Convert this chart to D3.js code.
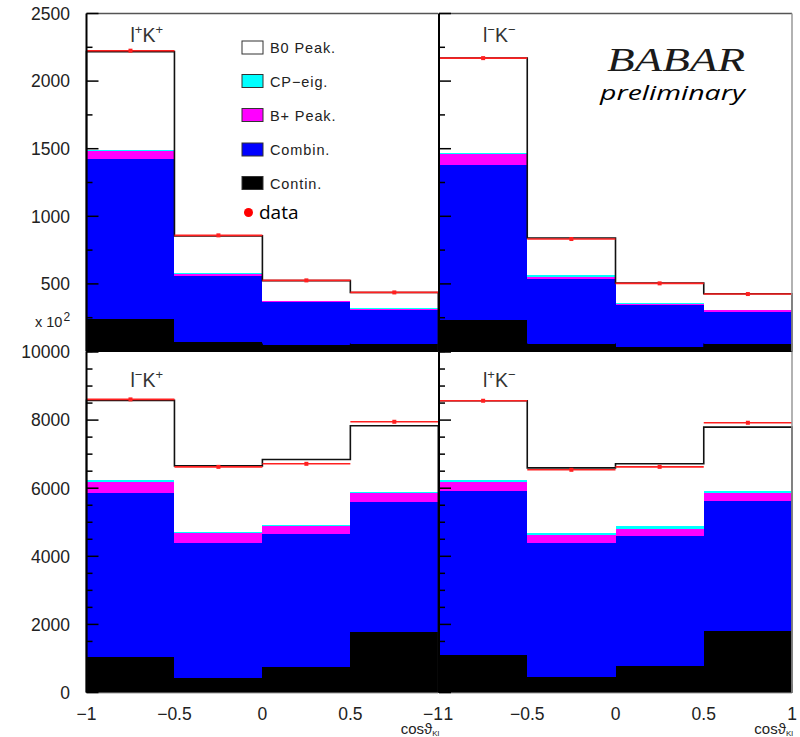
<!DOCTYPE html>
<html><head><meta charset="utf-8">
<script src="https://cdn.jsdelivr.net/npm/d3@7"></script>
<style>
body{margin:0;background:#fff}
svg{display:block}
text{font-family:"Liberation Sans",Arial,sans-serif}
</style>
</head><body>
<svg id="chart" width="800" height="737"></svg>
<script>
// Bin edges in cos(theta_Kl)
const binEdges = [-1, -0.5, 0, 0.5, 1];
// Panel order: top-left, top-right, bottom-left, bottom-right
const panelLabels = [["l","+","K","+"], ["l","−","K","−"], ["l","−","K","+"], ["l","+","K","−"]];
// Stacked components per panel, per bin (events)
const contin    = [[244, 67, 47, 57], [232, 57, 35, 57], [1029, 412, 745, 1775], [1108, 461, 785, 1804]];
const combin    = [[1178, 491, 316, 249], [1151, 479, 306, 234], [4844, 3980, 3902, 3833], [4804, 3931, 3823, 3814]];
const bplusPeak = [[64, 16, 7, 10], [81, 17, 12, 13], [323, 284, 245, 245], [284, 235, 196, 235]];
const cpEig     = [[8, 9, 2, 8], [6, 10, 5, 3], [39, 50, 39, 49], [39, 59, 88, 59]];
const b0Peak    = [[724, 272, 152, 112], [700, 276, 148, 120], [2343, 1930, 1912, 1931], [2333, 1912, 1824, 1882]];
// Measured counts per bin
const dataCounts = [[2225, 859, 526, 437], [2170, 832, 504, 425], [8608, 6627, 6716, 7951], [8568, 6540, 6627, 7922]];
// Axis ticks
const topTicks = [500, 1000, 1500, 2000, 2500];
const bottomTicks = [0, 2000, 4000, 6000, 8000, 10000];
const xTickValues = [-1, -0.5, 0, 0.5, 1];
// Legend
const legendLabels = ["B0 Peak.", "CP−eig.", "B+ Peak.", "Combin.", "Contin."];
const legendColors = ["#ffffff", "#00ffff", "#ff00ff", "#0000ff", "#000000"];

const layers = [contin, combin, bplusPeak, cpEig, b0Peak];
const layerColors = ["#000000", "#0000ff", "#ff00ff", "#00ffff", "#ffffff"];

const svg = d3.select("#chart");
svg.append("rect").attr("width", 800).attr("height", 737).attr("fill", "#fff");

const colRange = [[86.5, 438.3], [439, 792]];
const rows = [
  {domain: [0, 2500], range: [351.5, 13.5], ticks: topTicks, minorStep: 250},
  {domain: [0, 10000], range: [692.5, 352], ticks: bottomTicks, minorStep: 500}
];
const fmt = v => (v < 0 ? "−" + Math.abs(v) : String(v));

for (let p = 0; p < 4; p++) {
  const col = p % 2, row = Math.floor(p / 2);
  const R = rows[row];
  const x = d3.scaleLinear().domain([-1, 1]).range(colRange[col]);
  const y = d3.scaleLinear().domain(R.domain).range(R.range);
  const g = svg.append("g");

  // Stacked histogram fills
  const binRows = d3.range(4).map(i => layers.map(l => l[p][i]));
  const series = d3.stack().keys([0, 1, 2, 3, 4]).value((d, k) => d[k])(binRows);
  series.forEach((s, k) => {
    g.selectAll(null).data(s).enter().append("rect")
      .attr("x", (d, i) => x(binEdges[i]))
      .attr("width", (d, i) => x(binEdges[i + 1]) - x(binEdges[i]))
      .attr("y", d => y(d[1]))
      .attr("height", d => y(d[0]) - y(d[1]))
      .attr("fill", layerColors[k])
      .attr("shape-rendering", "crispEdges");
  });

  // x-axis ticks along the bottom of the frame (pointing up)
  const minorX = d3.range(-10, 11).map(v => v / 10);
  g.selectAll(null).data(minorX).enter().append("line")
    .attr("x1", d => x(d)).attr("x2", d => x(d))
    .attr("y1", y(0)).attr("y2", d => y(0) - (xTickValues.includes(d) ? 8 : 4))
    .attr("stroke", "#000").attr("stroke-width", 1);

  // Total MC outline
  const totals = binRows.map(r => d3.sum(r));
  const pts = [[x(-1), y(0)]];
  totals.forEach((t, i) => { pts.push([x(binEdges[i]), y(t)]); pts.push([x(binEdges[i + 1]), y(t)]); });
  pts.push([x(1), y(0)]);
  g.append("path").attr("d", d3.line()(pts))
    .attr("fill", "none").attr("stroke", "#111").attr("stroke-width", 1.6);

  // Data: horizontal bin-width bars with a marker at bin centre
  dataCounts[p].forEach((v, i) => {
    g.append("line")
      .attr("x1", x(binEdges[i])).attr("x2", x(binEdges[i + 1]))
      .attr("y1", y(v)).attr("y2", y(v))
      .attr("stroke", "#ff2020").attr("stroke-width", 1.6);
    g.append("rect")
      .attr("x", x((binEdges[i] + binEdges[i + 1]) / 2) - 2)
      .attr("y", y(v) - 2).attr("width", 4).attr("height", 4)
      .attr("fill", "#ff2020");
  });

  // Frame
  const [x0, x1] = colRange[col];
  if (row === 0) {
    g.append("line").attr("x1", x0).attr("x2", x1).attr("y1", R.range[1]).attr("y2", R.range[1])
      .attr("stroke", "#555").attr("stroke-width", 1.5);
  } else {
    g.append("line").attr("x1", x0).attr("x2", x1).attr("y1", R.range[0] + 0.5).attr("y2", R.range[0] + 0.5)
      .attr("stroke", "#999").attr("stroke-width", 1.2);
  }
  if (col === 1) {
    g.append("line").attr("x1", x1).attr("x2", x1).attr("y1", R.range[1]).attr("y2", R.range[0])
      .attr("stroke", "#999").attr("stroke-width", 1.5);
  }

  // y axis with inward ticks
  const yMax = R.domain[1];
  const minorY = d3.range(0, yMax + 1, R.minorStep).filter(v => !R.ticks.includes(v));
  g.append("line").attr("x1", x0).attr("x2", x0).attr("y1", R.range[1]).attr("y2", R.range[0])
    .attr("stroke", "#000").attr("stroke-width", 2);
  g.selectAll(null).data(R.ticks).enter().append("line")
    .attr("x1", x0).attr("x2", x0 + 12).attr("y1", d => y(d)).attr("y2", d => y(d))
    .attr("stroke", "#000").attr("stroke-width", 1.5);
  g.selectAll(null).data(minorY).enter().append("line")
    .attr("x1", x0).attr("x2", x0 + 6).attr("y1", d => y(d)).attr("y2", d => y(d))
    .attr("stroke", "#000").attr("stroke-width", 1.5);

  // y labels on the left column
  if (col === 0) {
    g.selectAll(null).data(R.ticks).enter().append("text")
      .attr("x", 70).attr("y", d => y(d)).attr("dy", "0.36em")
      .attr("text-anchor", "end").attr("font-size", 17.5).attr("fill", "#222")
      .text(d => d);
  }

  // x labels and title on the bottom row
  if (row === 1) {
    g.selectAll(null).data(xTickValues).enter().append("text")
      .attr("x", d => x(d) + (col === 0 && d === 1 ? 10 : 0) + (col === 1 && d === -1 ? -6 : 0))
      .attr("y", 720).attr("text-anchor", "middle")
      .attr("font-size", 17.5).attr("fill", "#222")
      .text(d => fmt(d));
    const t = g.append("text").attr("x", x1 + 1).attr("y", 734).attr("text-anchor", "end")
      .attr("font-size", 15).attr("fill", "#222");
    t.append("tspan").text("cosϑ");
    t.append("tspan").attr("font-size", 8).attr("dy", 2).text("Kl");
  }

  // Panel label
  const lab = panelLabels[p];
  const lt = g.append("text").attr("x", x0 + 44).attr("y", row === 0 ? 42 : 387)
    .attr("font-size", 19.5).attr("fill", "#333");
  lt.append("tspan").text(lab[0]);
  lt.append("tspan").attr("font-size", 13).attr("dy", -8).text(lab[1]);
  lt.append("tspan").attr("dy", 8).text(lab[2]);
  lt.append("tspan").attr("font-size", 13).attr("dy", -8).text(lab[3]);
}

// Legend
const legY = [47.5, 81, 115, 149.5, 183];
const leg = svg.append("g");
legendLabels.forEach((l, i) => {
  leg.append("rect").attr("x", 242).attr("y", legY[i] - 6.5).attr("width", 21).attr("height", 13)
    .attr("fill", legendColors[i]).attr("stroke", "#333").attr("stroke-width", 1);
  leg.append("text").attr("x", 270).attr("y", legY[i] + 5.5).attr("font-size", 14.5)
    .attr("letter-spacing", 0.9).attr("fill", "#222").text(l);
});
leg.append("circle").attr("cx", 248.5).attr("cy", 212.5).attr("r", 4.5).attr("fill", "#ff0000");
leg.append("text").attr("x", 259).attr("y", 219).attr("font-size", 19)
  .style("font-family", "'Open Sans','Noto Sans',sans-serif").attr("fill", "#000").text("data");

// Exponent label for the upper axis
const ex = svg.append("text").attr("x", 35).attr("y", 327).attr("font-size", 14.5).attr("fill", "#222");
ex.append("tspan").text("x 10");
ex.append("tspan").attr("font-size", 12).attr("dy", -6).attr("dx", 1).text("2");

// Collaboration mark
svg.append("text").attr("x", 607).attr("y", 71).attr("font-size", 33)
  .style("font-family", "'Liberation Serif','Times New Roman',serif").style("font-style", "italic")
  .attr("textLength", 138).attr("lengthAdjust", "spacingAndGlyphs")
  .attr("fill", "#1a1a1a").text("BABAR");
svg.append("text").attr("x", 600).attr("y", 100).attr("font-size", 20.5)
  .style("font-family", "'Open Sans','Noto Sans',sans-serif").style("font-style", "italic")
  .attr("textLength", 145).attr("lengthAdjust", "spacingAndGlyphs")
  .attr("fill", "#000").text("preliminary");
</script>
</body></html>
